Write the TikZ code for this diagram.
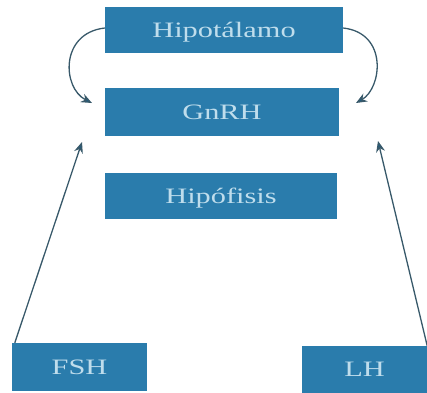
\documentclass[tikz,border=0pt]{standalone}
\usepackage{fontspec}
\setmainfont{Liberation Serif}
\usepackage{graphicx}
\usetikzlibrary{arrows.meta}
\definecolor{boxblue}{HTML}{2A7CAC}
\definecolor{boxtext}{HTML}{BFDDEC}
\definecolor{arrowgray}{HTML}{38596A}
\newcommand{\wide}[1]{\scalebox{1.38}[1]{#1}}

\begin{document}
\begin{tikzpicture}[x=1bp,y=-1bp,
        hormone/.style={rectangle,fill=boxblue,text=boxtext,inner sep=0pt,
            text height=14bp,text depth=0bp,
            font=\fontsize{22bp}{26bp}\selectfont},
        feedback/.style={draw=arrowgray,line width=1.3bp,
            -{Stealth[length=11bp,width=9bp,fill=boxblue!75!black]}}]
    \useasboundingbox (0,0) rectangle (427,393);
    \path (224,30) node (hipo) [hormone,minimum width=238bp,minimum height=46bp] {\wide{Hipotálamo}};
    \path (222,112) node (gnrh) [hormone,minimum width=234bp,minimum height=48bp] {\wide{GnRH}};
    \path (221,196) node (hipof) [hormone,minimum width=232bp,minimum height=46bp] {\wide{Hipófisis}};
    \path (79.5,367) node (fsh) [hormone,minimum width=135bp,minimum height=48bp] {\wide{FSH}};
    \path (364.5,369.5) node (lh) [hormone,minimum width=125bp,minimum height=47bp] {\wide{LH}};
    \coordinate (gnrh left) at (92,103);
    \coordinate (gnrh right) at (356,103);
    \coordinate (fsh end) at (82,142);
    \coordinate (lh end) at (378,141);
    \draw[feedback] ([yshift=2bp]hipo.west) .. controls +(-45,5) and +(-30,-15) .. (gnrh left);
    \draw[feedback] ([yshift=2bp]hipo.east) .. controls +(45,5) and +(26,-15) .. (gnrh right);
    \draw[feedback] ([xshift=3bp]fsh.north west) -- (fsh end);
    \draw[feedback] (lh.north east) -- (lh end);
\end{tikzpicture}
\end{document}
